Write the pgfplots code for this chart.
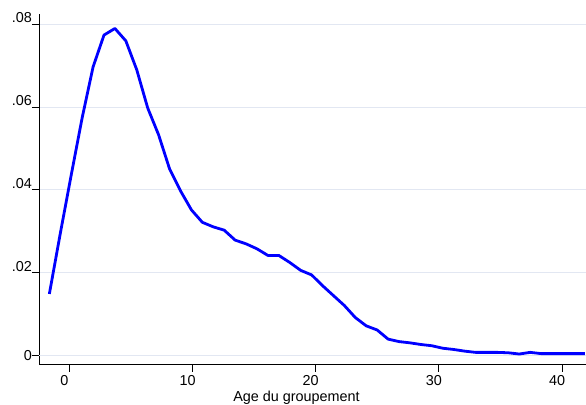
\documentclass[border=0pt]{standalone}
\usepackage{pgfplots}
\pgfplotsset{compat=1.18}
\usepackage{fontspec}
\setmainfont{Liberation Sans}
\definecolor{gridc}{RGB}{226,231,242}
\definecolor{lineblue}{RGB}{0,0,255}
\begin{document}
\begin{tikzpicture}
\begin{axis}[
  at={(0,0)}, anchor=south west,
  scale only axis, width=546.5bp, height=350.3bp,
  xmin=-2.42, xmax=41.94, ymin=-0.00208, ymax=0.08249,
  axis lines*=left,
  axis line style={line width=1.3bp, black},
  tick align=outside, major tick length=7.5bp,
  tick style={line width=1bp, black},
  /pgf/number format/assume math mode=true,
  tick label style={font=\fontsize{14.4bp}{17bp}\selectfont},
  label style={font=\fontsize{14.4bp}{17bp}\selectfont},
  xtick={0,10,20,30,40},
  xticklabels={0,10,20,30,40},
  xticklabel style={xshift=-5bp},
  ytick={0.02,0.04,0.06,0.08},
  yticklabels={.02,.04,.06,.08},
  yticklabel style={inner xsep=0pt, yshift=6.5bp},
  extra y ticks={0}, extra y tick labels={0},
  extra y tick style={grid=major, yticklabel style={yshift=-6.5bp}},
  ymajorgrids,
  major grid style={gridc, line width=1bp},
  xlabel={Age du groupement},
  xlabel style={at={(axis description cs:0.4703,-0.1048)}, anchor=base},
]
\addplot[lineblue, line width=2.8bp, line join=round] table {
x y
-1.620 0.0149
-0.733 0.0295
0.154 0.0436
1.041 0.0574
1.928 0.0697
2.815 0.0774
3.702 0.0790
4.589 0.0760
5.476 0.0690
6.363 0.0598
7.250 0.0533
8.137 0.0451
9.024 0.0398
9.911 0.0352
10.798 0.0322
11.685 0.0311
12.572 0.0303
13.459 0.0279
14.346 0.0270
15.233 0.0258
16.120 0.0242
17.007 0.0242
17.894 0.0225
18.781 0.0206
19.668 0.0195
20.555 0.0169
21.442 0.0145
22.329 0.0121
23.216 0.0092
24.103 0.0072
24.990 0.0062
25.877 0.0040
26.764 0.0034
27.651 0.0031
28.538 0.0027
29.425 0.0024
30.312 0.0018
31.199 0.0015
32.086 0.0011
32.973 0.0008
33.860 0.0008
34.747 0.0008
35.634 0.0007
36.521 0.0004
37.408 0.0008
38.295 0.0005
39.182 0.0005
40.069 0.0005
40.956 0.0005
41.843 0.0005
};
\end{axis}
\pgfresetboundingbox
\useasboundingbox (-39.5bp,-40.7bp) rectangle (546.5bp,364.3bp);
\end{tikzpicture}
\end{document}
